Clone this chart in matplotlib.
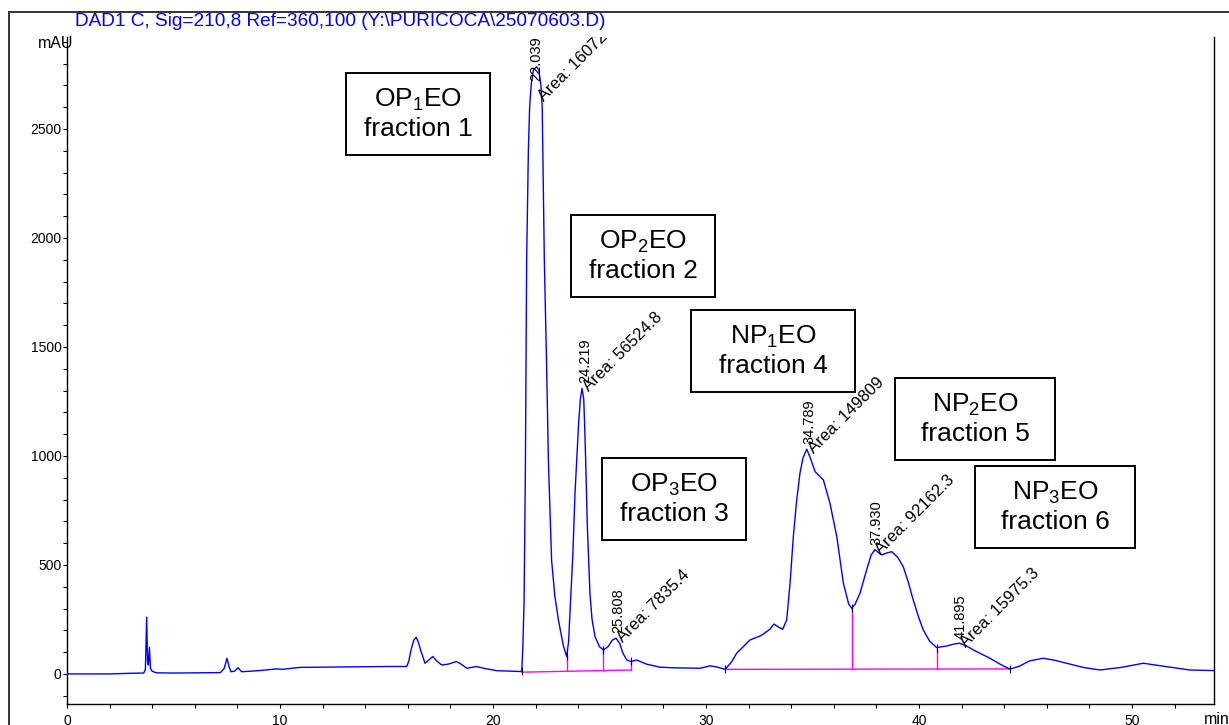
import numpy as np
import matplotlib
matplotlib.use("Agg")
from matplotlib import pyplot as plt
from matplotlib.patches import Rectangle
from matplotlib.lines import Line2D

plt.rcParams['font.family'] = ['Liberation Sans', 'DejaVu Sans']
plt.rcParams['mathtext.default'] = 'regular'

# signal trace (min, mAU)
time = [0.0, 2.0, 3.0, 3.6, 3.68, 3.74, 3.78, 3.82, 3.87, 3.92, 4.0, 4.2, 5.0, 6.0,
        7.2, 7.38, 7.51, 7.62, 7.70, 7.85, 8.03, 8.2, 8.5, 9.0, 9.84, 10.1, 10.94,
        12.0, 13.0, 14.0, 15.0, 15.95, 16.05, 16.15, 16.28, 16.39, 16.5, 16.6, 16.81,
        17.0, 17.17, 17.35, 17.59, 17.9, 18.29, 18.5, 18.77, 19.0, 19.23, 19.6, 20.17,
        21.0, 21.30, 21.35, 21.40, 21.46, 21.52, 21.58, 21.66, 21.72, 21.8, 21.9,
        22.04, 22.15, 22.25, 22.31, 22.41, 22.52, 22.6, 22.75, 22.9, 23.07, 23.3,
        23.46, 23.55, 23.62, 23.75, 23.85, 23.93, 24.02, 24.1, 24.18, 24.26, 24.30,
        24.35, 24.43, 24.55, 24.65, 24.79, 25.0, 25.18, 25.4, 25.6, 25.77, 25.95,
        26.1, 26.28, 26.46, 26.75, 27.2, 27.84, 28.5, 29.2, 29.72, 30.19, 30.5, 30.9,
        31.2, 31.44, 31.75, 32.07, 32.54, 32.69, 33.0, 33.19, 33.4, 33.60, 33.79,
        33.95, 34.10, 34.25, 34.41, 34.55, 34.73, 34.9, 35.12, 35.35, 35.51, 35.82,
        36.14, 36.45, 36.7, 36.84, 37.0, 37.23, 37.54, 37.75, 37.93, 38.1, 38.25,
        38.5, 38.72, 39.0, 39.26, 39.5, 39.73, 40.0, 40.20, 40.5, 40.83, 41.3, 41.6,
        41.9, 42.2, 42.55, 43.0, 43.33, 43.8, 44.27, 44.7, 45.2, 45.84, 46.4, 46.93,
        47.7, 48.5, 49.5, 50.53, 51.5, 52.72, 54.0]
signal = [0, 0, 3, 4, 20, 260, 60, 41, 122, 25, 12, 5, 4, 5,
          6, 25, 72, 30, 10, 12, 28, 10, 12, 15, 23, 21, 30,
          31, 32, 33, 34, 34, 60, 110, 155, 168, 145, 110, 49,
          65, 80, 60, 41, 45, 57, 45, 26, 30, 34, 25, 15,
          12, 11, 14, 120, 339, 936, 1900, 2400, 2602, 2710, 2770,
          2786, 2770, 2700, 2602, 1899, 1400, 982, 523, 360, 248, 130,
          80, 150, 294, 550, 830, 982, 1150, 1260, 1310, 1260, 1150,
          982, 676, 371, 250, 171, 125, 110, 125, 155, 164, 140,
          95, 64, 57, 64, 45, 31, 28, 27, 26, 37, 32, 21,
          55, 95, 125, 156, 174, 183, 205, 229, 215, 205, 248,
          420, 630, 790, 920, 990, 1031, 990, 928, 905, 890, 783,
          630, 416, 320, 301, 320, 370, 477, 545, 570, 556, 546,
          555, 561, 535, 492, 420, 339, 255, 202, 150, 121, 128, 136,
          141, 130, 110, 88, 72, 45, 22, 35, 60, 72, 62, 49,
          30, 18, 30, 49, 35, 18, 15]

# integrated peaks
peak_rt = [22.039, 24.219, 25.808, 34.789, 37.930, 41.895]
peak_height = [2786, 1310, 164, 1031, 566, 141]
peak_area = ["160724", "56524.8", "7835.4", "149809", "92162.3", "15975.3"]

# baselines (start, end) and the splits between peaks
base_t = [[21.35, 26.46], [30.9, 44.27]]
base_y = [[8, 18], [21, 23]]
split_t = [23.46, 25.18, 26.46, 36.84, 40.83]
split_y = [80, 110, 57, 301, 121]
mark_t = [21.35, 23.46, 25.18, 26.46, 30.9, 36.84, 40.83, 44.27]
mark_y = [14, 80, 110, 57, 21, 301, 121, 22]

# fraction boxes
frac_label = ["OP$_1$EO\nfraction 1", "OP$_2$EO\nfraction 2", "OP$_3$EO\nfraction 3",
              "NP$_1$EO\nfraction 4", "NP$_2$EO\nfraction 5", "NP$_3$EO\nfraction 6"]
frac_t = [16.48, 27.04, 28.50, 33.15, 42.63, 46.38]
frac_y = [2569, 1917, 803, 1482, 1170, 766]
frac_w = [144, 144, 144, 164, 160, 160]

W, H = 1229, 725
TOP = 37
fig = plt.figure(figsize=(W / 100, H / 100), dpi=100)
ax = fig.add_axes([67 / W, (H - 704) / H, 1147 / W, (704 - TOP) / H])

ax.plot(time, signal, color='#0000ff', lw=1.0, zorder=3)

for bt, by in zip(base_t, base_y):
    ax.plot(bt, by, color='#ff00ff', lw=1.0, zorder=2)
for st, sy in zip(split_t, split_y):
    seg = 0 if st < 28 else 1
    yb = np.interp(st, base_t[seg], base_y[seg])
    ax.plot([st, st], [yb, sy], color='#ff00ff', lw=1.0, zorder=2)
ax.plot(mark_t, mark_y, ls='none', marker='|', color='black', ms=6, mew=0.8, zorder=4)

# label offsets in points; the tallest peak is labelled lower down
rt_off = [(0, -10), (2, 4), (1, 4), (1, 4), (1, 4), (1, 3)]
area_off = [(7, -27), (6, -4), (6, -5), (6, -5), (6, -5), (6, -5)]
for rt, h, area, ro, ao in zip(peak_rt, peak_height, peak_area, rt_off, area_off):
    ax.annotate(f"{rt:.3f}", (rt, h), xytext=ro, textcoords='offset points',
                rotation=90, ha='center', va='bottom', fontsize=10.5, clip_on=True)
    ax.annotate(f"Area: {area}", (rt, h), xytext=ao, textcoords='offset points',
                rotation=45, rotation_mode='anchor', ha='left', va='bottom',
                fontsize=12, clip_on=True)

ax.set_xlim(0, 53.85)
ax.set_ylim(-138, (674 - TOP) * 500 / 109)

ax_w = 1147
ax_h = 704 - TOP
for lab, ft, fy, fw in zip(frac_label, frac_t, frac_y, frac_w):
    cx, cy = ax.transAxes.inverted().transform(ax.transData.transform((ft, fy)))
    bw, bh = fw / ax_w, 82 / ax_h
    ax.add_patch(Rectangle((cx - bw / 2, cy - bh / 2), bw, bh, transform=ax.transAxes,
                           fill=True, facecolor='white', edgecolor='black', lw=1.4, zorder=5))
    ax.text(cx, cy, lab, transform=ax.transAxes, ha='center', va='center',
            multialignment='center', fontsize=19, zorder=6)

ax.spines['top'].set_visible(False)
ax.spines['right'].set_visible(True)
for s in ax.spines.values():
    s.set_linewidth(1.0)
ax.set_xticks(np.arange(0, 51, 10))
ax.set_xticks(np.arange(0, 54, 2), minor=True)
ax.set_yticks(np.arange(0, 2501, 500))
ax.set_yticks(np.arange(-100, 2901, 100), minor=True)
ax.tick_params(axis='both', which='both', direction='out', length=3, width=0.8, labelsize=10)
ax.tick_params(axis='x', pad=4.5)
ax.tick_params(axis='y', pad=1)
ax.tick_params(right=False, which='both')

# page frame and header
fig.add_artist(Line2D([9 / W, 1], [1 - 12 / H, 1 - 12 / H], color='#333333', lw=1.4))
fig.add_artist(Line2D([9 / W, 9 / W], [0, 1 - 12 / H], color='#333333', lw=1.4))
fig.text(75 / W, 1 - 21 / H, r"DAD1 C, Sig=210,8 Ref=360,100 (Y:\PURICOCA\25070603.D)",
         color='#0000ff', fontsize=13.7, va='center', ha='left')
fig.text(38 / W, 1 - 44 / H, "mAU", fontsize=11.5, va='center', ha='left')
fig.text(1204 / W, 1 - 712 / H, "min", fontsize=11.5, va='top', ha='left')

fig.savefig("out.png", dpi=100)
